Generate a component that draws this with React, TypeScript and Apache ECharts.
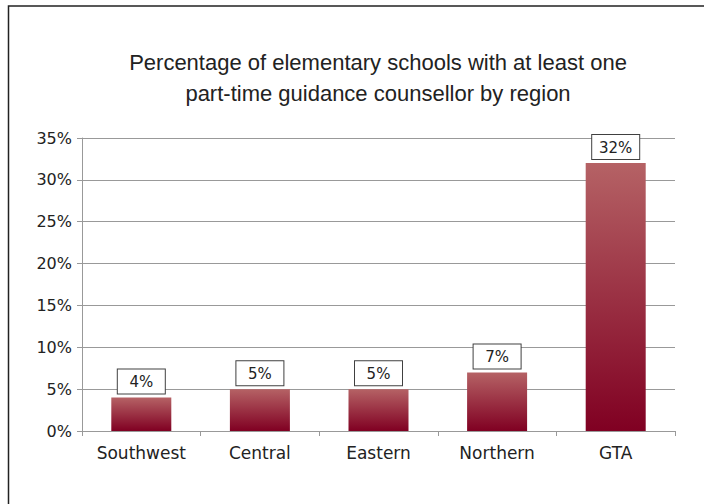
import React, { useEffect, useRef } from "react";
import * as echarts from "echarts";

const categories = ["Southwest", "Central", "Eastern", "Northern", "GTA"];
const values = [4, 5, 5, 7, 32];
const titleLines = [
  "Percentage of elementary schools with at least one",
  "part-time guidance counsellor by region",
];

export default function App() {
  const ref = useRef<HTMLDivElement>(null);
  useEffect(() => {
    document.body.style.margin = "0";
    const chart = echarts.init(ref.current!, null, { renderer: "svg" });
    chart.setOption({
      animation: false,
      backgroundColor: "#fff",
      title: {
        text: titleLines.join("\n"),
        left: 378,
        top: 47,
        padding: 0,
        textAlign: "center",
        textStyle: {
          fontFamily: "Liberation Sans",
          fontSize: 22,
          fontWeight: "normal",
          color: "#222",
          lineHeight: 31,
        },
      },
      graphic: [
        {
          type: "rect",
          shape: { x: 8.5, y: 6, width: 720, height: 520 },
          style: { fill: "none", stroke: "#222", lineWidth: 1.5 },
          silent: true,
          z: 100,
        },
      ],
      grid: { left: 82, right: 29, top: 138, bottom: 73, containLabel: false },
      xAxis: {
        type: "category",
        data: categories,
        axisLine: { show: true, lineStyle: { color: "#999", width: 1 } },
        axisTick: { show: true, length: 5, alignWithLabel: false, lineStyle: { color: "#999" } },
        axisLabel: {
          margin: 13,
          fontFamily: "DejaVu Sans",
          fontSize: 17,
          color: "#222",
        },
      },
      yAxis: {
        type: "value",
        min: 0,
        max: 35,
        interval: 5,
        axisLine: { show: true, lineStyle: { color: "#999", width: 1 } },
        axisTick: { show: true, length: 5, lineStyle: { color: "#999" } },
        splitLine: { show: true, lineStyle: { color: "#999", width: 1 } },
        axisLabel: {
          margin: 10,
          formatter: "{value}%",
          fontFamily: "DejaVu Sans",
          fontSize: 16,
          color: "#222",
        },
      },
      series: [
        {
          type: "bar",
          data: values,
          barWidth: 60,
          itemStyle: {
            color: new echarts.graphic.LinearGradient(0, 0, 0, 1, [
              { offset: 0, color: "#b56265" },
              { offset: 1, color: "#800022" },
            ]),
          },
          label: {
            show: true,
            position: "top",
            distance: 4,
            formatter: "{c}%",
            fontFamily: "DejaVu Sans",
            fontSize: 15,
            lineHeight: 17,
            width: 35,
            align: "center",
            color: "#222",
            backgroundColor: "#fff",
            borderColor: "#404040",
            borderWidth: 1,
            padding: [4, 6, 3, 6],
          },
        },
      ],
    });
    return () => chart.dispose();
  }, []);
  return (
    <div
      ref={ref}
      style={{ position: "fixed", left: 0, top: 0, width: 704, height: 504 }}
    />
  );
}
